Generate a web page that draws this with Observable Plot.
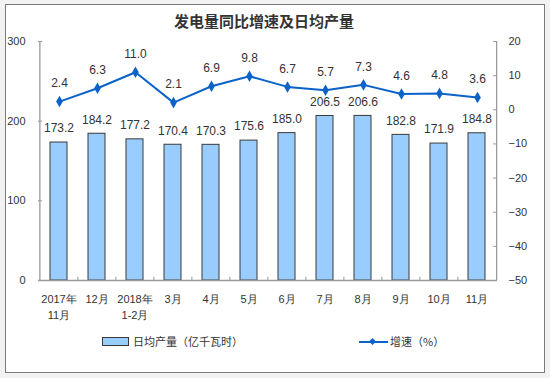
<!DOCTYPE html>
<html><head><meta charset="utf-8">
<script src="https://cdn.jsdelivr.net/npm/d3@7"></script>
<script src="https://cdn.jsdelivr.net/npm/@observablehq/plot@0.6"></script>
<style>
body{margin:0;background:#f2f2f2;width:550px;height:378px;position:relative;overflow:hidden;font-family:"Liberation Sans",Arial,sans-serif;}
#frame{position:absolute;left:5px;top:4px;width:538px;height:367px;border:1px solid #7a7a7a;background:#fff;}
#title{position:absolute;left:0;top:11px;width:528px;text-align:center;font:bold 15px/20px "Noto Sans CJK SC",sans-serif;color:#333;}
.plotbox{position:absolute;left:0;top:30px;}
.leg{position:absolute;font:11px/14px "Noto Sans CJK SC",sans-serif;color:#333;}
</style></head>
<body>
<div id="frame"></div>
<div id="title">发电量同比增速及日均产量</div>
<div id="a" class="plotbox"></div>
<div id="b" class="plotbox"></div>
<div style="position:absolute;left:102px;top:337px;width:25px;height:7px;background:#99ccff;border:1px solid #3a3a3a;"></div>
<div class="leg" style="left:133px;top:334px;">日均产量（亿千瓦时）</div>
<div style="position:absolute;left:359px;top:341px;width:29px;height:2px;background:#0b63c9;"></div>
<div style="position:absolute;left:370px;top:339px;width:5px;height:5px;background:#0b63c9;transform:rotate(45deg);"></div>
<div class="leg" style="left:390px;top:334px;">增速（%）</div>
<script>
const categories = ["2017年\n11月","12月","2018年\n1-2月","3月","4月","5月","6月","7月","8月","9月","10月","11月"];
const dailyOutput = [173.2,184.2,177.2,170.4,170.3,175.6,185.0,206.5,206.6,182.8,171.9,184.8];
const growth = [2.4,6.3,11.0,2.1,6.9,9.8,6.7,5.7,7.3,4.6,4.8,3.6];
const leftTicks = [0,100,200,300];
const rightTicks = [-50,-40,-30,-20,-10,0,10,20];

const data = categories.map((c,i)=>({cat:c, out:dailyOutput[i], g:growth[i]}));
const W=550,H=300,ML=38,MR=53,MT=11,MB=50;
const step = (W-ML-MR)/categories.length;
const axisColor="#9a9a9a";
const font = '"Liberation Sans",Arial,sans-serif';

const A = Plot.plot({
  width:W,height:H,marginLeft:ML,marginRight:MR,marginTop:MT,marginBottom:MB,
  style:{background:"transparent",fontFamily:font,fontSize:"11px",color:"#333"},
  x:{type:"band",domain:categories,paddingInner:0.55,paddingOuter:0.275,label:null},
  y:{domain:[0,300],label:null},
  marks:[
    Plot.axisY(leftTicks,{tickSize:0,tickPadding:13,fontSize:11,fill:"#333"}),
    Plot.axisX({tickSize:0,tickPadding:12,fontSize:11,lineHeight:1.4,fill:"#333"}),
    Plot.barY(data,{x:"cat",y:"out",fill:"#99ccff",stroke:"#3a3a3a",strokeWidth:1}),
    Plot.text(data,{x:"cat",y:"out",text:d=>d.out.toFixed(1),dy:-14,fontSize:12,fill:"#333"}),
    Plot.ruleY([0],{stroke:axisColor,strokeWidth:1.3}),
    Plot.ruleY(leftTicks.slice(1),{stroke:axisColor,insetRight:W-ML-MR-4}),
    Plot.ruleX([categories[0]],{dx:-step/2,stroke:axisColor,strokeWidth:1.3}),
    Plot.ruleX(categories.slice(1),{dx:-step/2,y1:0,y2:4,stroke:axisColor})
  ]
});
document.getElementById("a").appendChild(A);

const B = Plot.plot({
  width:W,height:H,marginLeft:ML,marginRight:MR,marginTop:MT,marginBottom:MB,
  style:{background:"transparent",fontFamily:font,fontSize:"11px",color:"#333"},
  x:{type:"point",domain:categories,padding:0.5,axis:null},
  y:{domain:[-50,20],label:null},
  marks:[
    Plot.axisY(rightTicks,{anchor:"right",tickSize:0,tickPadding:11,fontSize:11,fill:"#333"}),
    Plot.ruleY(rightTicks.slice(1),{stroke:axisColor,insetLeft:W-ML-MR-4}),
    Plot.ruleX([categories[categories.length-1]],{dx:step/2,stroke:axisColor,strokeWidth:1.3}),
    Plot.line(data,{x:"cat",y:"g",stroke:"#0b63c9",strokeWidth:2}),
    Plot.dot(data,{x:"cat",y:"g",symbol:"diamond",r:3.5,fill:"#0b63c9"}),
    Plot.text(data,{x:"cat",y:"g",text:d=>d.g.toFixed(1),dy:-18,fontSize:12,fill:"#333"})
  ]
});
document.getElementById("b").appendChild(B);
</script>
</body></html>
